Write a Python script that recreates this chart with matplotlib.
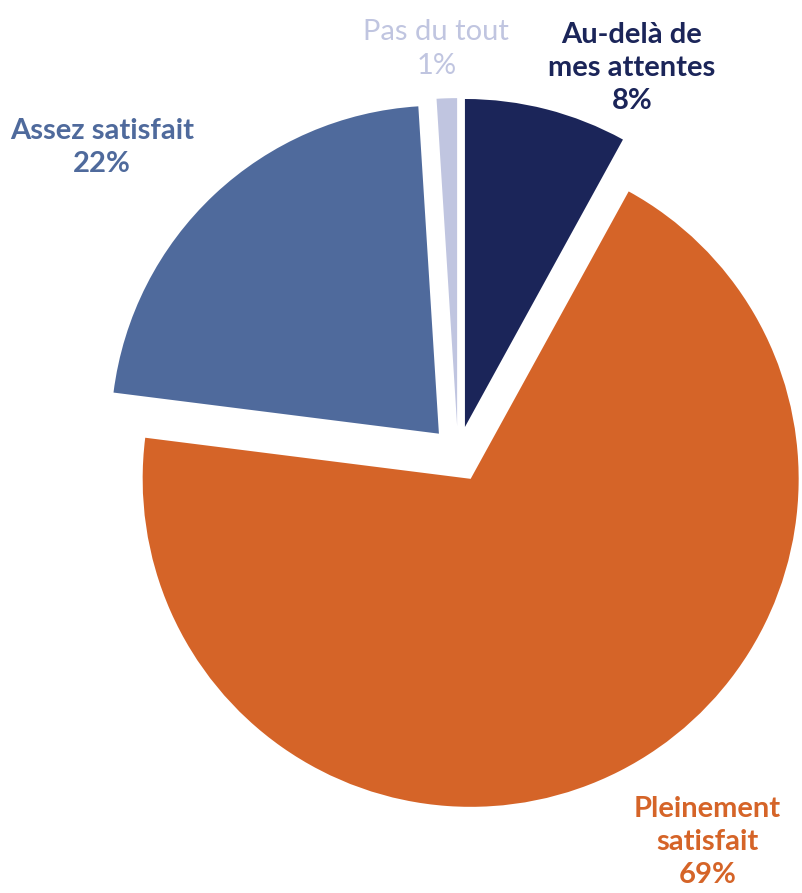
import matplotlib
matplotlib.use('Agg')
from matplotlib import pyplot as plt

# Data
categories = ['Au-delà de\nmes attentes', 'Pleinement\nsatisfait', 'Assez satisfait', 'Pas du tout']
values = [8, 69, 22, 1]
colors = ['#1b2559', '#d56428', '#4f6a9c', '#c0c5e0']

# label placement (axes fraction) and weight
label_pos = [(0.788, 0.924), (0.882, 0.057), (0.127, 0.835), (0.544, 0.945)]
label_weight = ['bold', 'bold', 'bold', 'normal']

plt.rcParams['font.family'] = ['Lato', 'DejaVu Sans']

fig = plt.figure(figsize=(8.02, 8.93), dpi=100)
ax = fig.add_axes([0, 0, 1, 1])
ax.pie(values, colors=colors, startangle=90, counterclock=False,
       explode=[0.085] * len(values), radius=1,
       wedgeprops=dict(linewidth=0))
# pixel layout: centre at (458, 454), radius 328 px
ax.set_xlim(-458 / 328, (802 - 458) / 328)
ax.set_ylim(-(893 - 454) / 328, 454 / 328)
ax.set_aspect('auto')
ax.axis('off')

for name, v, c, pos, w in zip(categories, values, colors, label_pos, label_weight):
    ax.text(pos[0], pos[1], '{}\n{}%'.format(name, v), color=c, fontsize=21,
            fontweight=w, ha='center', va='center', linespacing=1.35,
            transform=ax.transAxes)

fig.savefig('out.png', dpi=100)
